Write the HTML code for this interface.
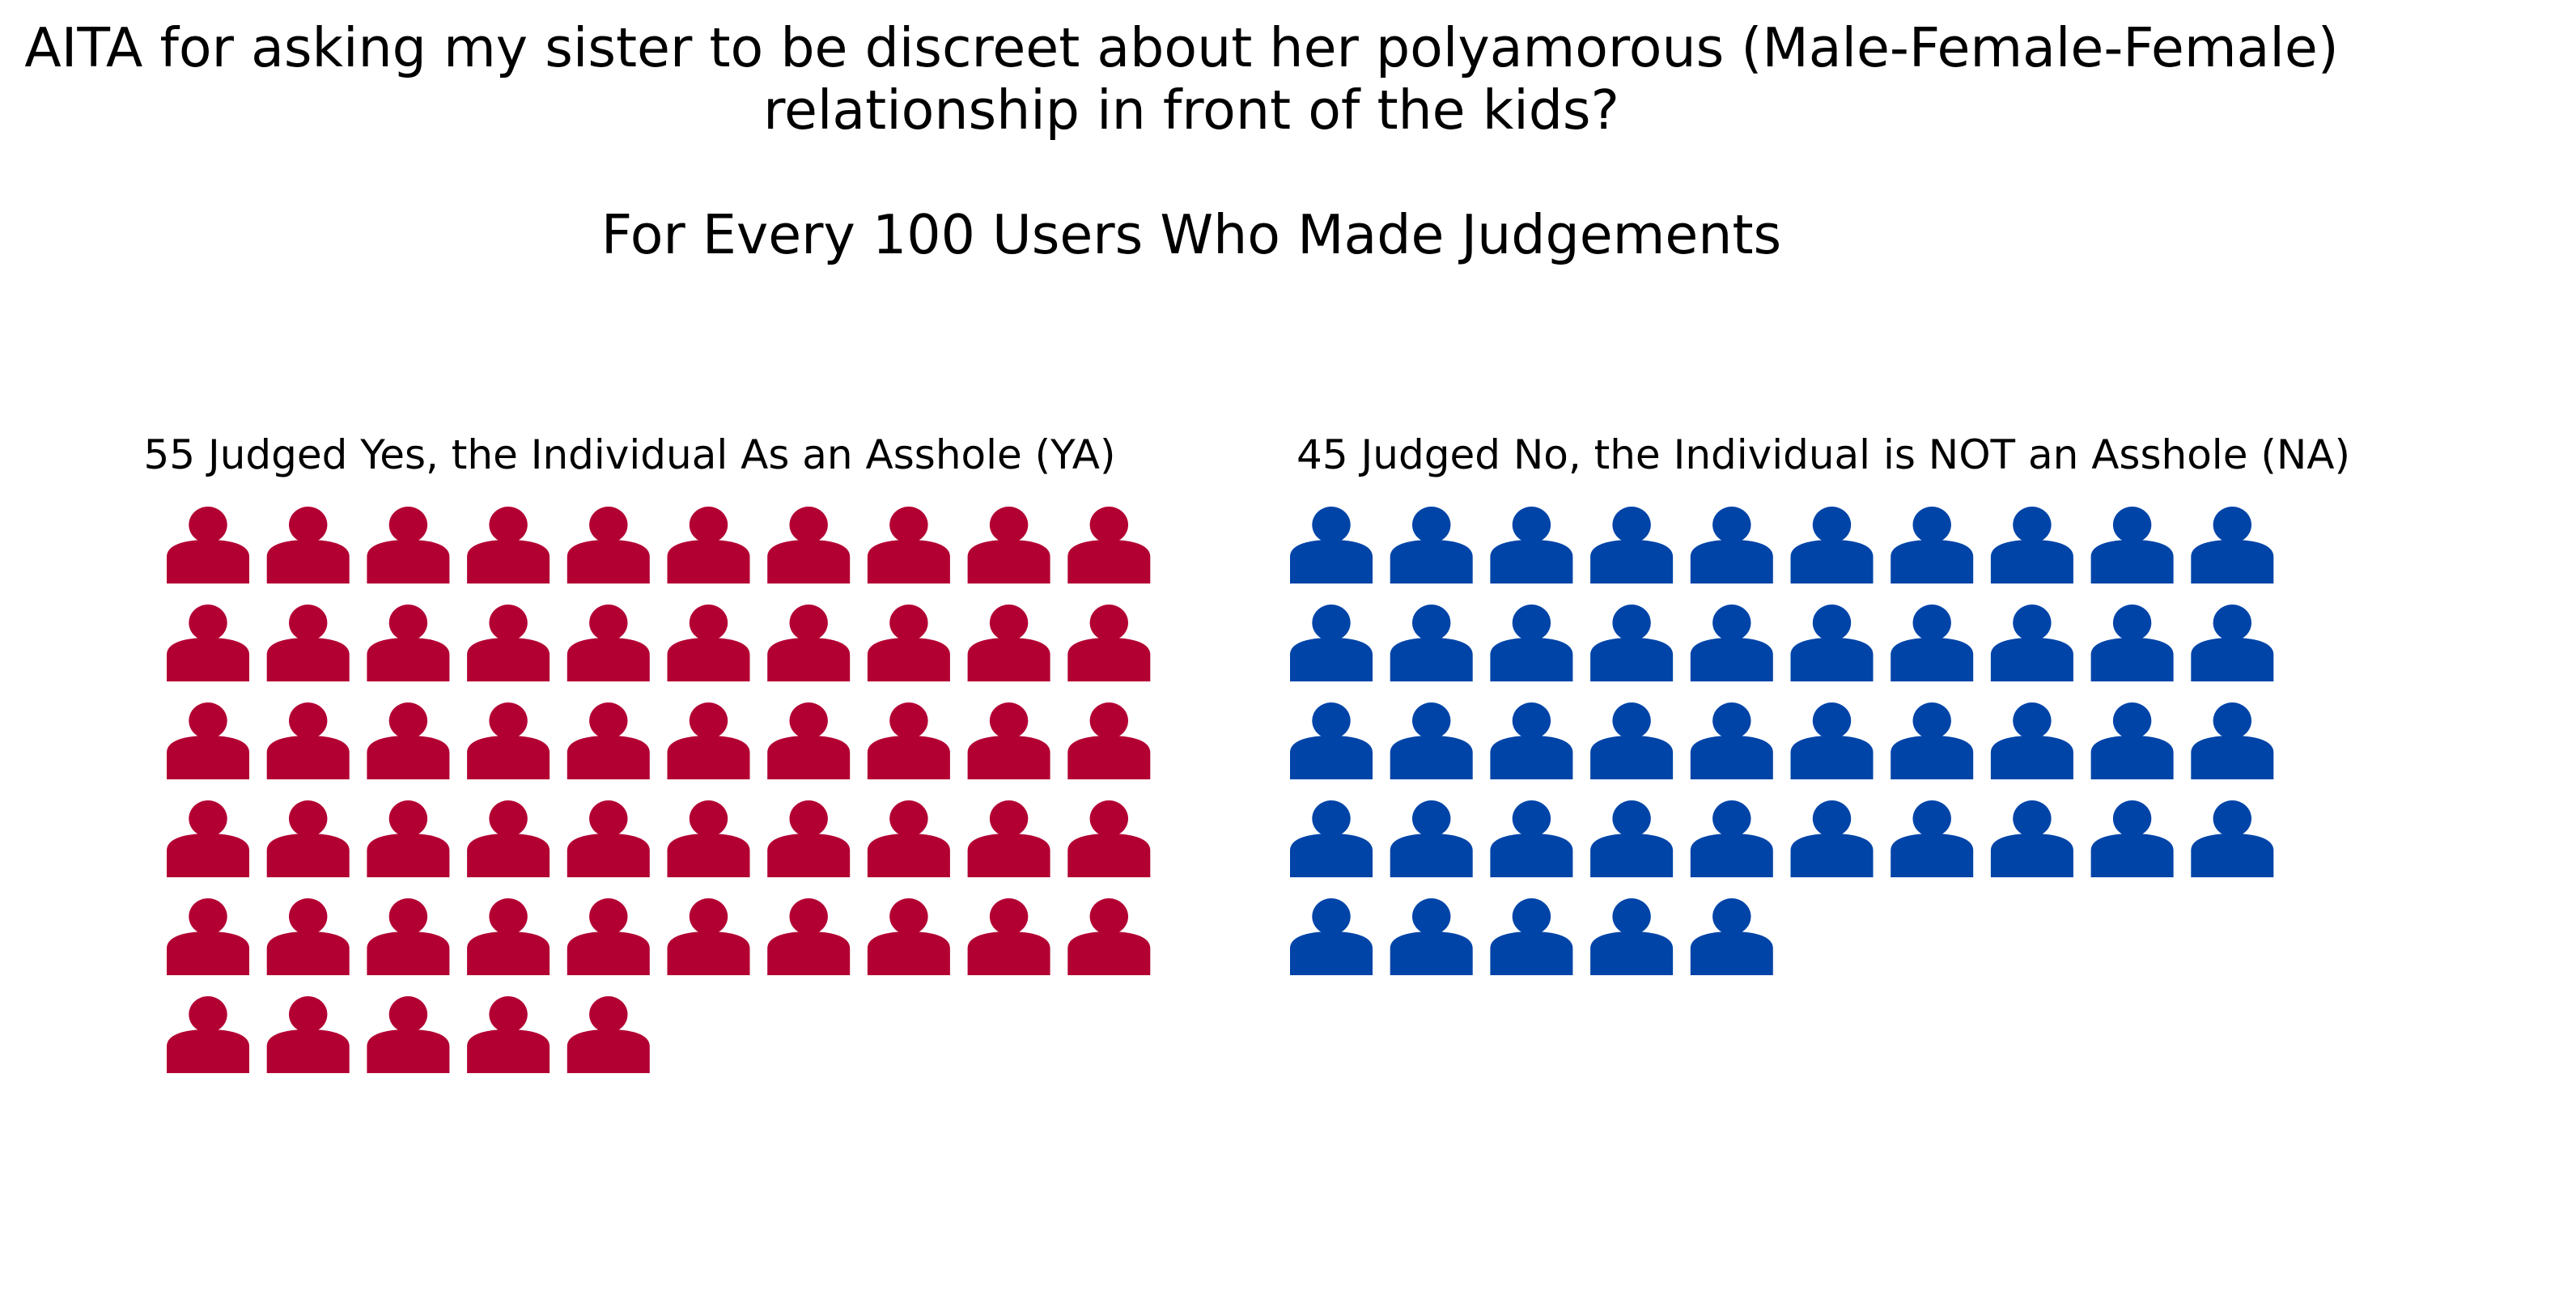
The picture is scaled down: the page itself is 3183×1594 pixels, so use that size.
<!DOCTYPE html>
<html>
<head>
<meta charset="utf-8">
<style>
html,body{margin:0;padding:0;background:#fff;}
svg{display:block;}
text{font-family:"DejaVu Sans","Liberation Sans",sans-serif;fill:#000;}
</style>
</head>
<body>
<svg id="chart" width="3183" height="1594" viewBox="0 0 3183 1594" xmlns="http://www.w3.org/2000/svg">
  <rect x="0" y="0" width="3183" height="1594" fill="#fff"/>
  <g text-anchor="middle" font-size="66.5">
    <text x="1460" y="82">AITA for asking my sister to be discreet about her polyamorous (Male-Female-Female)</text>
    <text x="1472" y="159">relationship in front of the kids?</text>
    <text x="1472" y="313">For Every 100 Users Who Made Judgements</text>
  </g>
  <text x="778" y="579" font-size="50" text-anchor="middle">55 Judged Yes, the Individual As an Asshole (YA)</text>
  <text x="2253" y="579" font-size="50" text-anchor="middle">45 Judged No, the Individual is NOT an Asshole (NA)</text>
  <g id="ya-icons"></g>
  <g id="na-icons"></g>
</svg>
<script>
const categories = ["YA", "NA"];
const counts = [55, 45];
const colors = ["#b30033", "#0044a8"];

const COLS = 10;
const PITCH_X = 123.7;
const PITCH_Y = 121;
const originX = [206, 1594];
const originY = 626;
const NS = "http://www.w3.org/2000/svg";

function iconX(panel, i) { return originX[panel] + (i % COLS) * PITCH_X; }
function iconY(i) { return originY + Math.floor(i / COLS) * PITCH_Y; }

function drawIcon(g, x, y, color) {
  const grp = document.createElementNS(NS, "g");
  
  
  const head = document.createElementNS(NS, "ellipse");
  head.setAttribute("cx", x + 51);
  head.setAttribute("cy", y + 22.5);
  head.setAttribute("rx", 23.7);
  head.setAttribute("ry", 22.5);
  head.setAttribute("fill", color);
  
  
  const body = document.createElementNS(NS, "path");
  const b = y + 95, s = y + 62, t = y + 41;
  body.setAttribute("d", `M${x},${b} L${x},${s} C${x},${t+6} ${x+22},${t} ${x+51},${t} C${x+80},${t} ${x+102},${t+6} ${x+102},${s} L${x+102},${b} Z`);
  body.setAttribute("fill", color);
  
  
  grp.appendChild(head);
  grp.appendChild(body);
  g.appendChild(grp);
}

const groups = [document.getElementById("ya-icons"), document.getElementById("na-icons")];
for (let p = 0; p < categories.length; p++) {
  for (let i = 0; i < counts[p]; i++) {
    drawIcon(groups[p], iconX(p, i), iconY(i), colors[p]);
  }
}
</script>
</body>
</html>
